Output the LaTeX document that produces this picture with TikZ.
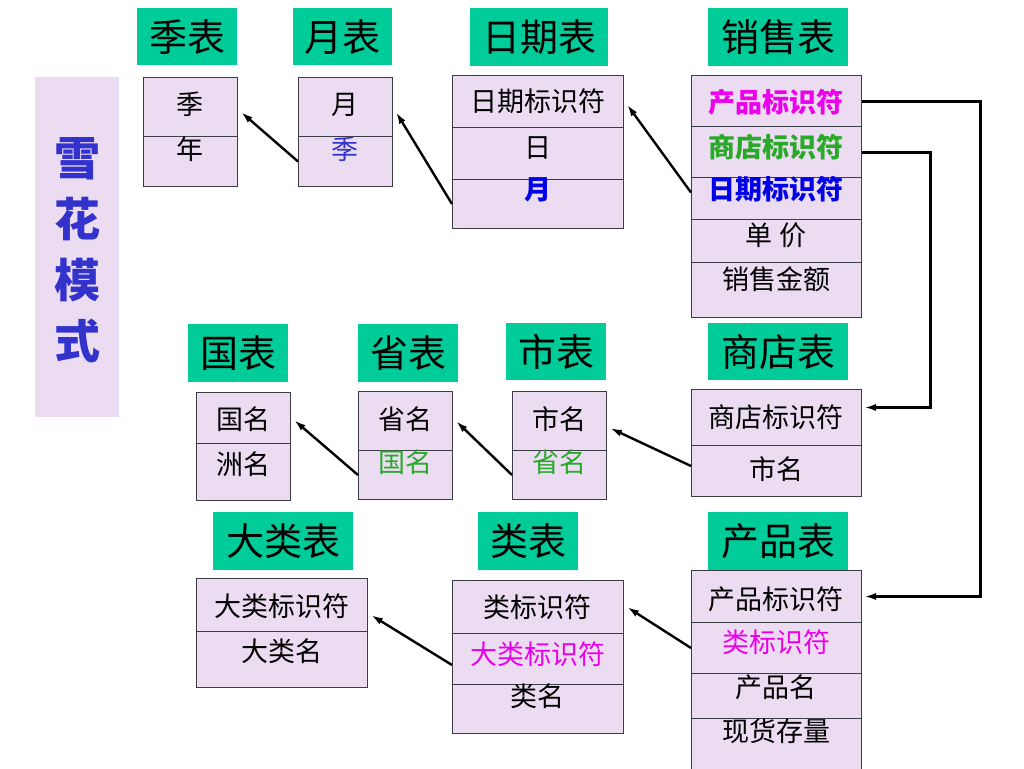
\documentclass[tikz,border=0pt]{standalone}
\usepackage{fontspec}
\setmainfont{Noto Sans CJK SC}
\usetikzlibrary{arrows.meta}
\definecolor{hdrgreen}{RGB}{0,204,153}
\definecolor{lav}{RGB}{236,220,242}
\definecolor{cellline}{RGB}{60,60,70}
\definecolor{bblue}{RGB}{0,0,230}
\definecolor{nblue}{RGB}{51,51,204}
\definecolor{mgreen}{RGB}{40,170,40}
\definecolor{mmag}{RGB}{235,0,235}
\newcommand\mycell[7]{%
  \node[cellbox, minimum width={#4-#2}, minimum height={#5-#3}, anchor=north west] (#1) at (#2,#3) {};
  \node[celltext] (#1t) at ({(#2+#4)/2},#6) {#7};}
\begin{document}
\begin{tikzpicture}[x=1pt,y=-1pt,
  cellbox/.style={draw=cellline, fill=lav, line width=1pt, inner sep=0pt},
  celltext/.style={font=\fontsize{27}{30}\selectfont, inner sep=0pt, text height=22pt, text depth=4pt},
  hdr/.style={fill=hdrgreen, inner sep=0pt, anchor=north west, font=\fontsize{38}{40}\selectfont},
  conn/.style={line width=2.4pt, -{Latex[length=12pt,width=7pt]}},
  rconn/.style={line width=3pt, -{Latex[length=12pt,width=7pt]}}]
\useasboundingbox (0,0) rectangle (1024,768);
\fill[white] (0,0) rectangle (1024,768);
% side label
\node[fill=lav, minimum width=84pt, minimum height=340pt, anchor=north west, inner sep=0pt] (side) at (35,77) {};
\node[text=nblue, font=\bfseries\fontsize{46}{61}\selectfont, align=center] (sidet) at (77,250) {雪\\花\\模\\式};
% headers
\node[hdr, minimum width=100pt, minimum height=57pt] (hji) at (137,8) {季表};
\node[hdr, minimum width=99pt, minimum height=57pt] (hyue) at (293,8) {月表};
\node[hdr, minimum width=138pt, minimum height=58pt] (hrq) at (470,8) {日期表};
\node[hdr, minimum width=140pt, minimum height=58pt] (hxs) at (708,8) {销售表};
\node[hdr, minimum width=100pt, minimum height=58pt] (hgb) at (188,324) {国表};
\node[hdr, minimum width=100pt, minimum height=58pt] (hsb) at (358,324) {省表};
\node[hdr, minimum width=100pt, minimum height=57pt] (hcb) at (506,323) {市表};
\node[hdr, minimum width=140pt, minimum height=57pt] (hsd) at (708,323) {商店表};
\node[hdr, minimum width=140pt, minimum height=58pt] (hdl) at (213,512) {大类表};
\node[hdr, minimum width=100pt, minimum height=58pt] (hlb) at (478,512) {类表};
\node[hdr, minimum width=140pt, minimum height=58pt] (hcp) at (708,512) {产品表};
% 季表
\mycell{ji1}{143}{77}{237}{136}{105}{季}
\mycell{ji2}{143}{136}{237}{186}{150}{年}
% 月表
\mycell{yue1}{298}{77}{392}{136}{105}{月}
\mycell{yue2}{298}{136}{392}{186}{150}{\textcolor{nblue}{季}}
% 日期表
\mycell{rq1}{452}{75}{623}{127}{102}{日期标识符}
\mycell{rq2}{452}{127}{623}{179}{148}{日}
\mycell{rq3}{452}{179}{623}{228}{190}{\textcolor{bblue}{\bfseries 月}}
% 销售表
\mycell{xs1}{691}{75}{861}{126}{103}{\textcolor{mmag}{\bfseries 产品标识符}}
\mycell{xs2}{691}{126}{861}{177}{148}{\textcolor{mgreen}{\bfseries 商店标识符}}
\mycell{xs3}{691}{177}{861}{219}{190}{\textcolor{bblue}{\bfseries 日期标识符}}
\mycell{xs4}{691}{219}{861}{262}{236}{单 价}
\mycell{xs5}{691}{262}{861}{317}{280}{销售金额}
% 国表
\mycell{gb1}{196}{392}{290}{443}{420}{国名}
\mycell{gb2}{196}{443}{290}{500}{465}{洲名}
% 省表
\mycell{sb1}{358}{391}{452}{450}{420}{省名}
\mycell{sb2}{358}{450}{452}{499}{463}{\textcolor{mgreen}{国名}}
% 市表
\mycell{cb1}{512}{391}{606}{450}{420}{市名}
\mycell{cb2}{512}{450}{606}{499}{463}{\textcolor{mgreen}{省名}}
% 商店表
\mycell{sd1}{691}{389}{861}{445}{418}{商店标识符}
\mycell{sd2}{691}{445}{861}{496}{470}{市名}
% 大类表
\mycell{dl1}{196}{578}{367}{631}{607}{大类标识符}
\mycell{dl2}{196}{631}{367}{687}{652}{大类名}
% 类表
\mycell{lb1}{452}{580}{623}{633}{608}{类标识符}
\mycell{lb2}{452}{633}{623}{684}{655}{\textcolor{mmag}{大类标识符}}
\mycell{lb3}{452}{684}{623}{733}{697}{类名}
% 产品表
\mycell{cp1}{691}{570}{861}{622}{600}{产品标识符}
\mycell{cp2}{691}{622}{861}{673}{643}{\textcolor{mmag}{类标识符}}
\mycell{cp3}{691}{673}{861}{718}{688}{产品名}
\mycell{cp4}{691}{718}{861}{770}{732}{现货存量}
% connectors
\draw[conn] (yue2.west) -- ([xshift=3pt,yshift=-5pt]ji1.east);
\draw[conn] (rq3.west) -- ([xshift=3pt,yshift=-5pt]yue1.east);
\draw[conn] ([yshift=6pt]xs3.west) -- ([xshift=3pt,yshift=-3pt]rq1.east);
\draw[conn] (sb2.west) -- ([xshift=3pt,yshift=-2pt]gb1.east);
\draw[conn] (cb2.west) -- ([xshift=3pt]sb1.east);
\draw[conn] ([yshift=5pt]sd2.west) -- ([xshift=3pt,yshift=-7pt]cb1.east);
\draw[conn] ([yshift=-6pt]lb2.west) -- ([xshift=3pt,yshift=-10pt]dl1.east);
\draw[conn] (cp2.west) -- ([xshift=3pt]lb1.east);
\coordinate (rx1) at (980,0);
\coordinate (rx2) at (930,0);
\draw[rconn] (xs1.east) -- (xs1.east -| rx1) |- ([xshift=2pt]cp1.east);
\draw[rconn] (xs2.east) -- (xs2.east -| rx2) |- ([xshift=2pt,yshift=10pt]sd1.east);
\end{tikzpicture}
\end{document}
